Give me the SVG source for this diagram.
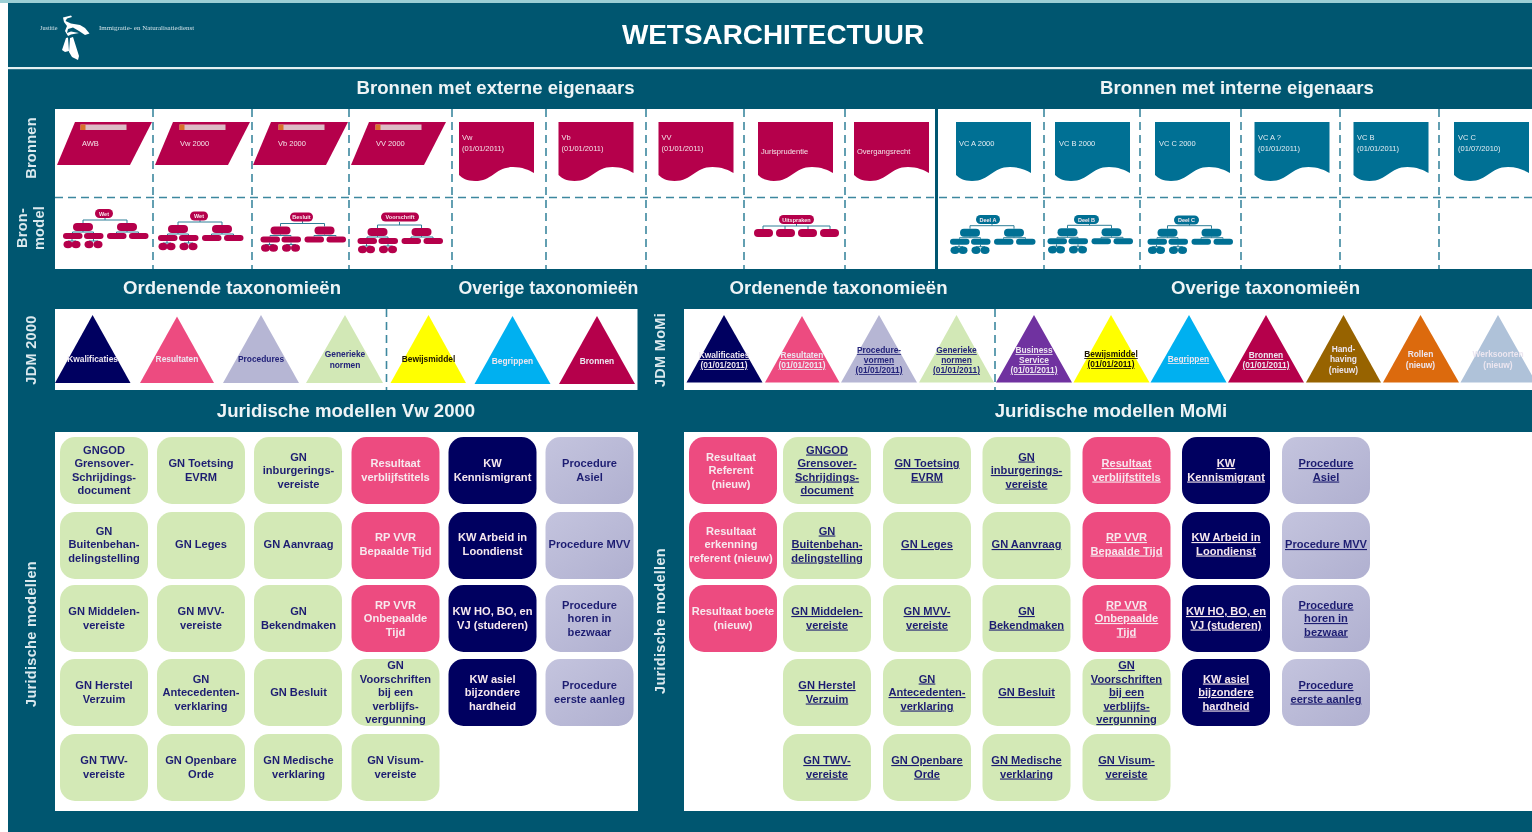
<svg xmlns="http://www.w3.org/2000/svg" width="1532" height="832" viewBox="0 0 1532 832">
<style>
text{font-family:"Liberation Sans",Arial,sans-serif}
.h{font-size:18.600px;font-weight:bold;fill:#eef4f6;text-anchor:middle}
.side{font-size:14.500px;font-weight:bold;fill:#dbe9ee;text-anchor:middle;letter-spacing:.3px}
.dash{stroke:#3c889f;stroke-width:1.6;stroke-dasharray:8 5;fill:none}
.sm{font-size:7.500px;fill:#f3e3e8}
.smb{font-size:7.500px;fill:#e3eef3}
.rt{font-size:5.500px;font-weight:bold;fill:#f8e8ee;text-anchor:middle}
.tri{font-size:8.400px;font-weight:bold;text-anchor:middle}
.lw{fill:#ece6f0}.ln{fill:#23237a}.lk{fill:#1a1200}
.u{text-decoration:underline}
.t{font-size:11.100px;font-weight:bold;text-anchor:middle}
.tg{fill:#1f1f72}.tw{fill:#f7e8ee}
.g{fill:#d3e9b6}.p{fill:#ed4c80}.n{fill:#000060}.l{fill:url(#lil)}
.red{fill:#b5004b}.blu{fill:#006f94}
.tl{fill:none;stroke:#2f7f98;stroke-width:1}
</style>
<defs>
<linearGradient id="lil" x1="0" y1="0" x2="1" y2="1"><stop offset="0" stop-color="#c4c4de"/><stop offset="1" stop-color="#b0b0d0"/></linearGradient>
<filter id="soft" filterUnits="userSpaceOnUse" x="0" y="0" width="1532" height="832"><feGaussianBlur stdDeviation="0.5"/></filter>
<path id="doc" d="M0 122h75v51c-5-3-12-6-21-6c-18 0-20 14-38 14c-8 0-13-3-16-6z"/>
<rect id="tile" width="88" height="67" rx="15"/>
<path id="para" d="M-1 165L17 122H94L72 165z"/>
<g id="tag"><rect width="46" height="5.500" fill="#dcbcc6"/><rect width="5" height="5.500" fill="#d8702a"/></g>
<path id="tree-lines" class="tl" d="M-21-4V-7H23V-4M1-10V-7M-31.5 6V5H-10.5V6M-21 4V5M12.5 6V5H34.5V6M23 4V5M-32 12V14M-36 15V14H-28V15M-10.5 12V14M-15 15V14H-6V15"/>
<g id="tree-body">
<rect x="-31" y="-4" width="20" height="8" rx="4"/><rect x="13" y="-4" width="20" height="8" rx="4"/>
<rect x="-41" y="6" width="19.500" height="6" rx="3"/><rect x="-20" y="6" width="19.500" height="6" rx="3"/><rect x="3" y="6" width="19.500" height="6" rx="3"/><rect x="25" y="6" width="19.500" height="6" rx="3"/>
<ellipse cx="-36" cy="17.500" rx="4.500" ry="3.700"/><ellipse cx="-28" cy="17.500" rx="4.500" ry="3.700"/><ellipse cx="-15" cy="17.500" rx="4.500" ry="3.700"/><ellipse cx="-6" cy="17.500" rx="4.500" ry="3.700"/>
</g>
</defs>
<rect width="1532" height="832" fill="#fff"/>
<g filter="url(#soft)">
<rect x="8" y="3" width="1524" height="829" fill="#005670"/>
<rect width="1532" height="3" fill="#9ccfd5"/>
<rect x="8" y="67" width="1524" height="2.200" fill="#e4f0f2"/>

<g id="logo">
<path fill="#fff" d="M63 17.500L71 15.500L72 17L67 18.500L65.500 21L71 23.500L80 25L85 28L89.500 33.500L85 35L79 31L73 27.500L68 29L67 33L71 31.500L79 33L71 34.500L68 36L65 31L67 26L64 22z"/>
<path fill="#fff" d="M62 50L66 38L68 37.500L69 51L65 52zM70 38L73 37L79 56L78 60L72 57L69 52z"/>
<text x="40" y="30" style="font-family:'Liberation Serif',serif;font-size:6.200px;fill:#cfe0e6">Justitie</text>
<text x="99" y="30" style="font-family:'Liberation Serif',serif;font-size:6.950px;fill:#cfe0e6">Immigratie- en Naturalisatiedienst</text>
</g>
<text id="title" x="773" y="44" text-anchor="middle" style="font-size:27.900px;font-weight:bold;fill:#fff">WETSARCHITECTUUR</text>

<text class="h" x="495.500" y="93.500">Bronnen met externe eigenaars</text>
<text class="h" x="1237" y="93.500">Bronnen met interne eigenaars</text>
<text class="h" x="232" y="293.500">Ordenende taxonomieën</text>
<text class="h" x="548.500" y="293.500" style="font-size:17.700px">Overige taxonomieën</text>
<text class="h" x="838.500" y="293.500">Ordenende taxonomieën</text>
<text class="h" x="1265.500" y="293.500">Overige taxonomieën</text>
<text class="h" x="346" y="416.500">Juridische modellen Vw 2000</text>
<text class="h" x="1111" y="416.500">Juridische modellen MoMi</text>

<text class="side" transform="translate(36 148) rotate(-90)">Bronnen</text>
<text class="side" transform="translate(27 228) rotate(-90)">Bron-</text>
<text class="side" transform="translate(44 228) rotate(-90)">model</text>
<text class="side" transform="translate(36 350) rotate(-90)">JDM 2000</text>
<text class="side" transform="translate(665 350) rotate(-90)">JDM MoMi</text>
<text class="side" transform="translate(36 634) rotate(-90)">Juridische modellen</text>
<text class="side" transform="translate(665 621) rotate(-90)">Juridische modellen</text>

<g id="panels">
<rect x="55" y="109" width="1477" height="160" fill="#fff"/>
<rect x="55" y="309" width="582.500" height="81" fill="#fff"/>
<rect x="684" y="309" width="848" height="81" fill="#fff"/>
<rect x="55" y="432" width="583" height="379" fill="#fff"/>
<rect x="684" y="432" width="848" height="379" fill="#fff"/>
<path class="dash" d="M55 197.500H1532M153 109V269M252 109V269M349 109V269M452 109V269M546 109V269M646 109V269M744 109V269M845 109V269M1044 109V269M1140 109V269M1241 109V269M1340 109V269M1439 109V269M386.500 309V390M995 309V390"/>
<path d="M936.500 109V269" stroke="#005670" stroke-width="3" fill="none"/>
</g>

<g id="connectors">
<use href="#tree-lines" x="104" y="227"/>
<use href="#tree-lines" x="199" y="229"/>
<use href="#tree-lines" x="301.500" y="230.500"/>
<use href="#tree-lines" x="398.500" y="232"/>
<use href="#tree-lines" x="991" y="232.700"/>
<use href="#tree-lines" x="1088.500" y="232.300"/>
<use href="#tree-lines" x="1188.500" y="232.700"/>
<path class="tl" d="M796.500 224V226M763 229V226H830V229M785 226V229M808 226V229"/>
</g>

<g id="src-awb" class="red"><use href="#para" x="58"/><use href="#tag" x="80.500" y="124.500"/><text class="sm" x="82" y="145.500">AWB</text></g>
<g id="src-vw2000" class="red"><use href="#para" x="156"/><use href="#tag" x="179.500" y="124.500"/><text class="sm" x="180" y="145.500">Vw 2000</text></g>
<g id="src-vb2000" class="red"><use href="#para" x="254"/><use href="#tag" x="278.500" y="124.500"/><text class="sm" x="278" y="145.500">Vb 2000</text></g>
<g id="src-vv2000" class="red"><use href="#para" x="352"/><use href="#tag" x="375.500" y="124.500"/><text class="sm" x="376" y="145.500">VV 2000</text></g>

<g id="src-vw" class="red"><use href="#doc" x="459"/><text class="sm" x="462" y="140">Vw</text><text class="sm" x="462" y="150.500">(01/01/2011)</text></g>
<g id="src-vb" class="red"><use href="#doc" x="558.500"/><text class="sm" x="561.500" y="140">Vb</text><text class="sm" x="561.500" y="150.500">(01/01/2011)</text></g>
<g id="src-vv" class="red"><use href="#doc" x="658.500"/><text class="sm" x="661.500" y="140">VV</text><text class="sm" x="661.500" y="150.500">(01/01/2011)</text></g>
<g id="src-juris" class="red"><use href="#doc" x="758"/><text class="sm" x="761" y="153.500">Jurisprudentie</text></g>
<g id="src-overgang" class="red"><use href="#doc" x="854"/><text class="sm" x="857" y="153.500">Overgangsrecht</text></g>

<g id="src-vca2000" class="blu"><use href="#doc" x="956"/><text class="smb" x="959" y="145.500">VC A 2000</text></g>
<g id="src-vcb2000" class="blu"><use href="#doc" x="1055"/><text class="smb" x="1059" y="145.500">VC B 2000</text></g>
<g id="src-vcc2000" class="blu"><use href="#doc" x="1155"/><text class="smb" x="1159" y="145.500">VC C 2000</text></g>
<g id="src-vca" class="blu"><use href="#doc" x="1254.500"/><text class="smb" x="1258" y="140">VC A ?</text><text class="smb" x="1258" y="150.500">(01/01/2011)</text></g>
<g id="src-vcb" class="blu"><use href="#doc" x="1353.500"/><text class="smb" x="1357" y="140">VC B</text><text class="smb" x="1357" y="150.500">(01/01/2011)</text></g>
<g id="src-vcc" class="blu"><use href="#doc" x="1454"/><text class="smb" x="1458" y="140">VC C</text><text class="smb" x="1458" y="150.500">(01/07/2010)</text></g>

<g id="tree-wet1" class="red"><use href="#tree-body" x="104" y="227"/><rect x="95" y="209" width="18" height="9" rx="4.500"/><text class="rt" x="104" y="215.500">Wet</text></g>
<g id="tree-wet2" class="red"><use href="#tree-body" x="199" y="229"/><rect x="190" y="211.500" width="18" height="9" rx="4.500"/><text class="rt" x="199" y="218">Wet</text></g>
<g id="tree-besluit" class="red"><use href="#tree-body" x="301.500" y="230.500"/><rect x="290" y="212.500" width="23" height="9" rx="4.500"/><text class="rt" x="301.500" y="219">Besluit</text></g>
<g id="tree-voorschrift" class="red"><use href="#tree-body" x="398.500" y="232"/><rect x="381" y="212.500" width="38" height="9" rx="4.500"/><text class="rt" x="400" y="219">Voorschrift</text></g>
<g id="tree-uitspraken" class="red">
<rect x="779" y="215" width="35" height="9" rx="4.500"/><text class="rt" x="796.500" y="221.500">Uitspraken</text>
<rect x="754" y="229" width="19" height="8" rx="4"/><rect x="776" y="229" width="19" height="8" rx="4"/><rect x="798" y="229" width="19" height="8" rx="4"/><rect x="820" y="229" width="19" height="8" rx="4"/>
</g>
<g id="tree-deela" class="blu"><use href="#tree-body" x="991" y="232.700"/><rect x="976" y="215" width="24" height="9" rx="4.500"/><text class="rt" x="988" y="221.500">Deel A</text></g>
<g id="tree-deelb" class="blu"><use href="#tree-body" x="1088.500" y="232.300"/><rect x="1074" y="215" width="25" height="9" rx="4.500"/><text class="rt" x="1086.500" y="221.500">Deel B</text></g>
<g id="tree-deelc" class="blu"><use href="#tree-body" x="1188.500" y="232.700"/><rect x="1174" y="215.500" width="25" height="9" rx="4.500"/><text class="rt" x="1186.500" y="222">Deel C</text></g>

<g id="tax-a-kwal"><path fill="#000060" d="M55 383L92.600 315L130.500 383z"/><text class="tri lw" x="92.600" y="362">Kwalificaties</text></g>
<g id="tax-a-res"><path fill="#ed4c80" d="M140 383L177 316.500L214 383z"/><text class="tri lw" x="177" y="362">Resultaten</text></g>
<g id="tax-a-proc"><path fill="#b6b6d4" d="M223 383L261 315L299 383z"/><text class="tri ln" x="261" y="362">Procedures</text></g>
<g id="tax-a-gen"><path fill="#d2e8b6" d="M306 383L345 315L383 383z"/><text class="tri ln" x="345" y="357">Generieke</text><text class="tri ln" x="345" y="367.500">normen</text></g>
<g id="tax-a-bew"><path fill="#ffff00" d="M390.500 383L428.500 315L466 383z"/><text class="tri lk" x="428.500" y="362">Bewijsmiddel</text></g>
<g id="tax-a-beg"><path fill="#00b0f0" d="M474.500 384L512.500 316L550.500 384z"/><text class="tri lw" x="512.500" y="364">Begrippen</text></g>
<g id="tax-a-bron"><path fill="#b5004b" d="M559 384L597 316L635 384z"/><text class="tri lw" x="597" y="364">Bronnen</text></g>

<g id="tax-b-kwal"><path fill="#000060" d="M686.500 382.500L724 315L762.500 382.500z"/><text class="tri lw u" x="724" y="358">Kwalificaties</text><text class="tri lw u" x="724" y="368">(01/01/2011)</text></g>
<g id="tax-b-res"><path fill="#ed4c80" d="M765 382.500L802 316L839.500 382.500z"/><text class="tri lw u" x="802" y="358">Resultaten</text><text class="tri lw u" x="802" y="368">(01/01/2011)</text></g>
<g id="tax-b-proc"><path fill="#b6b6d4" d="M841 382.500L879 315L917 382.500z"/><text class="tri ln u" x="879" y="353">Procedure-</text><text class="tri ln u" x="879" y="363">vormen</text><text class="tri ln u" x="879" y="373">(01/01/2011)</text></g>
<g id="tax-b-gen"><path fill="#d2e8b6" d="M919 382.500L956.500 315L994 382.500z"/><text class="tri ln u" x="956.500" y="353">Generieke</text><text class="tri ln u" x="956.500" y="363">normen</text><text class="tri ln u" x="956.500" y="373">(01/01/2011)</text></g>
<g id="tax-b-bus"><path fill="#7030a0" d="M996 382.500L1034 315L1072 382.500z"/><text class="tri lw u" x="1034" y="353">Business</text><text class="tri lw u" x="1034" y="363">Service</text><text class="tri lw u" x="1034" y="373">(01/01/2011)</text></g>
<g id="tax-b-bew"><path fill="#ffff00" d="M1073.500 382.500L1111 315L1149.500 382.500z"/><text class="tri lk u" x="1111" y="357">Bewijsmiddel</text><text class="tri lk u" x="1111" y="367">(01/01/2011)</text></g>
<g id="tax-b-beg"><path fill="#00b0f0" d="M1150.500 382.500L1189 315L1226.500 382.500z"/><text class="tri lw u" x="1188.500" y="362">Begrippen</text></g>
<g id="tax-b-bron"><path fill="#b5004b" d="M1228 382.500L1266 315L1304 382.500z"/><text class="tri lw u" x="1266" y="358">Bronnen</text><text class="tri lw u" x="1266" y="368">(01/01/2011)</text></g>
<g id="tax-b-hand"><path fill="#976300" d="M1306 382.500L1343.500 315L1381 382.500z"/><text class="tri lw" x="1343.500" y="352">Hand-</text><text class="tri lw" x="1343.500" y="362">having</text><text class="tri lw" x="1343.500" y="373">(nieuw)</text></g>
<g id="tax-b-rol"><path fill="#dc6a0f" d="M1383 382.500L1420.500 315L1459 382.500z"/><text class="tri lw" x="1420.500" y="357">Rollen</text><text class="tri lw" x="1420.500" y="367.500">(nieuw)</text></g>
<g id="tax-b-werk"><path fill="#afc2d9" d="M1460.500 382.500L1498 315L1536 382.500z"/><text class="tri lw" x="1498" y="357">Werksoorten</text><text class="tri lw" x="1498" y="367.500">(nieuw)</text></g>

<g id="jm-l-1-1"><use href="#tile" x="60" y="437" class="g"/><text class="t tg" x="104" y="453.500">GNGOD<tspan x="104" dy="13.500">Grensover-</tspan><tspan x="104" dy="13.500">Schrijdings-</tspan><tspan x="104" dy="13.500">document</tspan></text></g>
<g id="jm-l-2-1"><use href="#tile" x="60" y="512" class="g"/><text class="t tg" x="104" y="534.500">GN<tspan x="104" dy="13.500">Buitenbehan-</tspan><tspan x="104" dy="13.500">delingstelling</tspan></text></g>
<g id="jm-l-3-1"><use href="#tile" x="60" y="585" class="g"/><text class="t tg" x="104" y="615">GN Middelen-<tspan x="104" dy="13.500">vereiste</tspan></text></g>
<g id="jm-l-4-1"><use href="#tile" x="60" y="659" class="g"/><text class="t tg" x="104" y="689">GN Herstel<tspan x="104" dy="13.500">Verzuim</tspan></text></g>
<g id="jm-l-5-1"><use href="#tile" x="60" y="734" class="g"/><text class="t tg" x="104" y="764">GN TWV-<tspan x="104" dy="13.500">vereiste</tspan></text></g>

<g id="jm-l-1-2"><use href="#tile" x="157" y="437" class="g"/><text class="t tg" x="201" y="467">GN Toetsing<tspan x="201" dy="13.500">EVRM</tspan></text></g>
<g id="jm-l-2-2"><use href="#tile" x="157" y="512" class="g"/><text class="t tg" x="201" y="548">GN Leges</text></g>
<g id="jm-l-3-2"><use href="#tile" x="157" y="585" class="g"/><text class="t tg" x="201" y="615">GN MVV-<tspan x="201" dy="13.500">vereiste</tspan></text></g>
<g id="jm-l-4-2"><use href="#tile" x="157" y="659" class="g"/><text class="t tg" x="201" y="682.500">GN<tspan x="201" dy="13.500">Antecedenten-</tspan><tspan x="201" dy="13.500">verklaring</tspan></text></g>
<g id="jm-l-5-2"><use href="#tile" x="157" y="734" class="g"/><text class="t tg" x="201" y="764">GN Openbare<tspan x="201" dy="13.500">Orde</tspan></text></g>

<g id="jm-l-1-3"><use href="#tile" x="254" y="437" class="g"/><text class="t tg" x="298.500" y="460.500">GN<tspan x="298.500" dy="13.500">inburgerings-</tspan><tspan x="298.500" dy="13.500">vereiste</tspan></text></g>
<g id="jm-l-2-3"><use href="#tile" x="254" y="512" class="g"/><text class="t tg" x="298.500" y="548">GN Aanvraag</text></g>
<g id="jm-l-3-3"><use href="#tile" x="254" y="585" class="g"/><text class="t tg" x="298.500" y="615">GN<tspan x="298.500" dy="13.500">Bekendmaken</tspan></text></g>
<g id="jm-l-4-3"><use href="#tile" x="254" y="659" class="g"/><text class="t tg" x="298.500" y="696">GN Besluit</text></g>
<g id="jm-l-5-3"><use href="#tile" x="254" y="734" class="g"/><text class="t tg" x="298.500" y="764">GN Medische<tspan x="298.500" dy="13.500">verklaring</tspan></text></g>

<g id="jm-l-1-4"><use href="#tile" x="351.500" y="437" class="p"/><text class="t tw" x="395.500" y="467">Resultaat<tspan x="395.500" dy="13.500">verblijfstitels</tspan></text></g>
<g id="jm-l-2-4"><use href="#tile" x="351.500" y="512" class="p"/><text class="t tw" x="395.500" y="541">RP VVR<tspan x="395.500" dy="13.500">Bepaalde Tijd</tspan></text></g>
<g id="jm-l-3-4"><use href="#tile" x="351.500" y="585" class="p"/><text class="t tw" x="395.500" y="608.500">RP VVR<tspan x="395.500" dy="13.500">Onbepaalde</tspan><tspan x="395.500" dy="13.500">Tijd</tspan></text></g>
<g id="jm-l-4-4"><use href="#tile" x="351.500" y="659" class="g"/><text class="t tg" x="395.500" y="669">GN<tspan x="395.500" dy="13.500">Voorschriften</tspan><tspan x="395.500" dy="13.500">bij een</tspan><tspan x="395.500" dy="13.500">verblijfs-</tspan><tspan x="395.500" dy="13.500">vergunning</tspan></text></g>
<g id="jm-l-5-4"><use href="#tile" x="351.500" y="734" class="g"/><text class="t tg" x="395.500" y="764">GN Visum-<tspan x="395.500" dy="13.500">vereiste</tspan></text></g>

<g id="jm-l-1-5"><use href="#tile" x="448.500" y="437" class="n"/><text class="t tw" x="492.500" y="467">KW<tspan x="492.500" dy="13.500">Kennismigrant</tspan></text></g>
<g id="jm-l-2-5"><use href="#tile" x="448.500" y="512" class="n"/><text class="t tw" x="492.500" y="541">KW Arbeid in<tspan x="492.500" dy="13.500">Loondienst</tspan></text></g>
<g id="jm-l-3-5"><use href="#tile" x="448.500" y="585" class="n"/><text class="t tw" x="492.500" y="615">KW HO, BO, en<tspan x="492.500" dy="13.500">VJ (studeren)</tspan></text></g>
<g id="jm-l-4-5"><use href="#tile" x="448.500" y="659" class="n"/><text class="t tw" x="492.500" y="682.500">KW asiel<tspan x="492.500" dy="13.500">bijzondere</tspan><tspan x="492.500" dy="13.500">hardheid</tspan></text></g>

<g id="jm-l-1-6"><use href="#tile" x="545.500" y="437" class="l"/><text class="t tg" x="589.500" y="467">Procedure<tspan x="589.500" dy="13.500">Asiel</tspan></text></g>
<g id="jm-l-2-6"><use href="#tile" x="545.500" y="512" class="l"/><text class="t tg" x="589.500" y="548">Procedure MVV</text></g>
<g id="jm-l-3-6"><use href="#tile" x="545.500" y="585" class="l"/><text class="t tg" x="589.500" y="608.500">Procedure<tspan x="589.500" dy="13.500">horen in</tspan><tspan x="589.500" dy="13.500">bezwaar</tspan></text></g>
<g id="jm-l-4-6"><use href="#tile" x="545.500" y="659" class="l"/><text class="t tg" x="589.500" y="689">Procedure<tspan x="589.500" dy="13.500">eerste aanleg</tspan></text></g>

<g id="jm-r-1-0"><use href="#tile" x="689" y="437" class="p"/><text class="t tw" x="731" y="460.500">Resultaat<tspan x="731" dy="13.500">Referent</tspan><tspan x="731" dy="13.500">(nieuw)</tspan></text></g>
<g id="jm-r-2-0"><use href="#tile" x="689" y="512" class="p"/><text class="t tw" x="731" y="534.500">Resultaat<tspan x="731" dy="13.500">erkenning</tspan><tspan x="731" dy="13.500">referent (nieuw)</tspan></text></g>
<g id="jm-r-3-0"><use href="#tile" x="689" y="585" class="p"/><text class="t tw" x="733" y="615">Resultaat boete<tspan x="733" dy="13.500">(nieuw)</tspan></text></g>

<g id="jm-r-1-1"><use href="#tile" x="783" y="437" class="g"/><text class="t tg u" x="827" y="453.500">GNGOD<tspan x="827" dy="13.500">Grensover-</tspan><tspan x="827" dy="13.500">Schrijdings-</tspan><tspan x="827" dy="13.500">document</tspan></text></g>
<g id="jm-r-2-1"><use href="#tile" x="783" y="512" class="g"/><text class="t tg u" x="827" y="534.500">GN<tspan x="827" dy="13.500">Buitenbehan-</tspan><tspan x="827" dy="13.500">delingstelling</tspan></text></g>
<g id="jm-r-3-1"><use href="#tile" x="783" y="585" class="g"/><text class="t tg u" x="827" y="615">GN Middelen-<tspan x="827" dy="13.500">vereiste</tspan></text></g>
<g id="jm-r-4-1"><use href="#tile" x="783" y="659" class="g"/><text class="t tg u" x="827" y="689">GN Herstel<tspan x="827" dy="13.500">Verzuim</tspan></text></g>
<g id="jm-r-5-1"><use href="#tile" x="783" y="734" class="g"/><text class="t tg u" x="827" y="764">GN TWV-<tspan x="827" dy="13.500">vereiste</tspan></text></g>

<g id="jm-r-1-2"><use href="#tile" x="883" y="437" class="g"/><text class="t tg u" x="927" y="467">GN Toetsing<tspan x="927" dy="13.500">EVRM</tspan></text></g>
<g id="jm-r-2-2"><use href="#tile" x="883" y="512" class="g"/><text class="t tg u" x="927" y="548">GN Leges</text></g>
<g id="jm-r-3-2"><use href="#tile" x="883" y="585" class="g"/><text class="t tg u" x="927" y="615">GN MVV-<tspan x="927" dy="13.500">vereiste</tspan></text></g>
<g id="jm-r-4-2"><use href="#tile" x="883" y="659" class="g"/><text class="t tg u" x="927" y="682.500">GN<tspan x="927" dy="13.500">Antecedenten-</tspan><tspan x="927" dy="13.500">verklaring</tspan></text></g>
<g id="jm-r-5-2"><use href="#tile" x="883" y="734" class="g"/><text class="t tg u" x="927" y="764">GN Openbare<tspan x="927" dy="13.500">Orde</tspan></text></g>

<g id="jm-r-1-3"><use href="#tile" x="982.500" y="437" class="g"/><text class="t tg u" x="1026.500" y="460.500">GN<tspan x="1026.500" dy="13.500">inburgerings-</tspan><tspan x="1026.500" dy="13.500">vereiste</tspan></text></g>
<g id="jm-r-2-3"><use href="#tile" x="982.500" y="512" class="g"/><text class="t tg u" x="1026.500" y="548">GN Aanvraag</text></g>
<g id="jm-r-3-3"><use href="#tile" x="982.500" y="585" class="g"/><text class="t tg u" x="1026.500" y="615">GN<tspan x="1026.500" dy="13.500">Bekendmaken</tspan></text></g>
<g id="jm-r-4-3"><use href="#tile" x="982.500" y="659" class="g"/><text class="t tg u" x="1026.500" y="696">GN Besluit</text></g>
<g id="jm-r-5-3"><use href="#tile" x="982.500" y="734" class="g"/><text class="t tg u" x="1026.500" y="764">GN Medische<tspan x="1026.500" dy="13.500">verklaring</tspan></text></g>

<g id="jm-r-1-4"><use href="#tile" x="1082.500" y="437" class="p"/><text class="t tw u" x="1126.500" y="467">Resultaat<tspan x="1126.500" dy="13.500">verblijfstitels</tspan></text></g>
<g id="jm-r-2-4"><use href="#tile" x="1082.500" y="512" class="p"/><text class="t tw u" x="1126.500" y="541">RP VVR<tspan x="1126.500" dy="13.500">Bepaalde Tijd</tspan></text></g>
<g id="jm-r-3-4"><use href="#tile" x="1082.500" y="585" class="p"/><text class="t tw u" x="1126.500" y="608.500">RP VVR<tspan x="1126.500" dy="13.500">Onbepaalde</tspan><tspan x="1126.500" dy="13.500">Tijd</tspan></text></g>
<g id="jm-r-4-4"><use href="#tile" x="1082.500" y="659" class="g"/><text class="t tg u" x="1126.500" y="669">GN<tspan x="1126.500" dy="13.500">Voorschriften</tspan><tspan x="1126.500" dy="13.500">bij een</tspan><tspan x="1126.500" dy="13.500">verblijfs-</tspan><tspan x="1126.500" dy="13.500">vergunning</tspan></text></g>
<g id="jm-r-5-4"><use href="#tile" x="1082.500" y="734" class="g"/><text class="t tg u" x="1126.500" y="764">GN Visum-<tspan x="1126.500" dy="13.500">vereiste</tspan></text></g>

<g id="jm-r-1-5"><use href="#tile" x="1182" y="437" class="n"/><text class="t tw u" x="1226" y="467">KW<tspan x="1226" dy="13.500">Kennismigrant</tspan></text></g>
<g id="jm-r-2-5"><use href="#tile" x="1182" y="512" class="n"/><text class="t tw u" x="1226" y="541">KW Arbeid in<tspan x="1226" dy="13.500">Loondienst</tspan></text></g>
<g id="jm-r-3-5"><use href="#tile" x="1182" y="585" class="n"/><text class="t tw u" x="1226" y="615">KW HO, BO, en<tspan x="1226" dy="13.500">VJ (studeren)</tspan></text></g>
<g id="jm-r-4-5"><use href="#tile" x="1182" y="659" class="n"/><text class="t tw u" x="1226" y="682.500">KW asiel<tspan x="1226" dy="13.500">bijzondere</tspan><tspan x="1226" dy="13.500">hardheid</tspan></text></g>

<g id="jm-r-1-6"><use href="#tile" x="1282" y="437" class="l"/><text class="t tg u" x="1326" y="467">Procedure<tspan x="1326" dy="13.500">Asiel</tspan></text></g>
<g id="jm-r-2-6"><use href="#tile" x="1282" y="512" class="l"/><text class="t tg u" x="1326" y="548">Procedure MVV</text></g>
<g id="jm-r-3-6"><use href="#tile" x="1282" y="585" class="l"/><text class="t tg u" x="1326" y="608.500">Procedure<tspan x="1326" dy="13.500">horen in</tspan><tspan x="1326" dy="13.500">bezwaar</tspan></text></g>
<g id="jm-r-4-6"><use href="#tile" x="1282" y="659" class="l"/><text class="t tg u" x="1326" y="689">Procedure<tspan x="1326" dy="13.500">eerste aanleg</tspan></text></g>
</g>
</svg>
